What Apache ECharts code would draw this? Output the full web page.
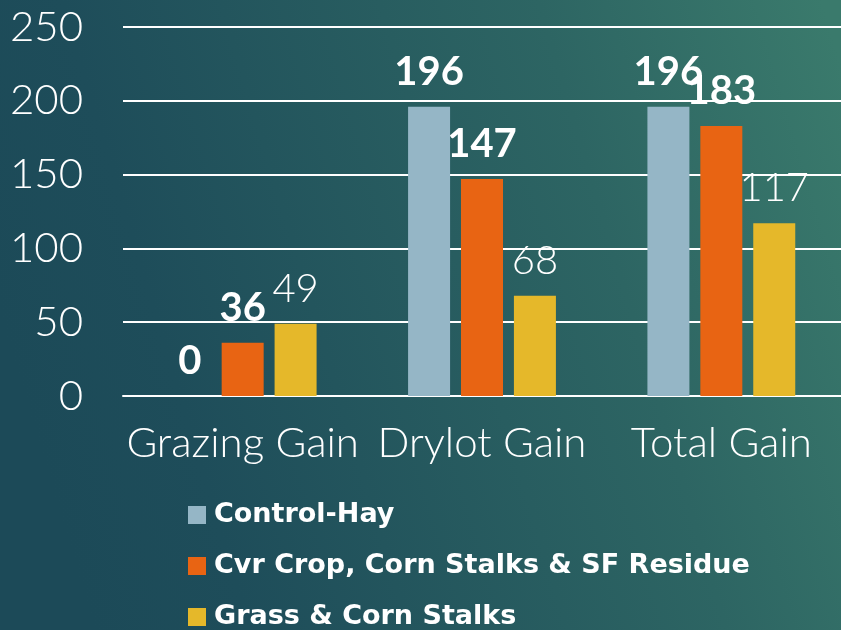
<!DOCTYPE html>
<html>
<head>
<meta charset="utf-8">
<script src="https://cdn.jsdelivr.net/npm/echarts@6/dist/echarts.min.js"></script>
<style>
html,body{margin:0;padding:0;background:#1d4d5a;}
#c{width:841px;height:630px;}
</style>
</head>
<body>
<div id="c"></div>
<script>
const categories = ['Grazing Gain', 'Drylot Gain', 'Total Gain'];
const seriesNames = ['Control-Hay', 'Cvr Crop, Corn Stalks & SF Residue', 'Grass & Corn Stalks'];
const controlHay = [0, 196, 196];
const cvrCrop = [36, 147, 183];
const grassCorn = [49, 68, 117];
const yTicks = [0, 50, 100, 150, 200, 250];

const colors = ['#95b6c6', '#e86413', '#e5b82a'];
const seriesData = [controlHay, cvrCrop, grassCorn];
const labelBold = ['bold', 'bold', 300];

const chart = echarts.init(document.getElementById('c'));
chart.setOption({
  backgroundColor: {
    type: 'linear', x: 0, y: 0.5, x2: 1, y2: 0.1,
    colorStops: [
      {offset: 0, color: '#1c4a58'},
      {offset: 0.17, color: '#1e4d5a'},
      {offset: 0.69, color: '#2d6563'},
      {offset: 1, color: '#3a7a6c'}
    ]
  },
  animation: false,
  grid: {left: 123, top: 27, width: 723, bottom: 234},
  legend: {
    orient: 'vertical',
    left: 183,
    top: 495,
    height: 300,
    itemWidth: 18,
    itemHeight: 18,
    itemGap: 21,
    icon: 'rect',
    data: seriesNames,
    textStyle: {color: '#ffffff', fontFamily: 'DejaVu Sans', fontWeight: 'bold', fontSize: 27, lineHeight: 30, padding: [0, 0, 0, 3]}
  },
  xAxis: {
    type: 'category',
    data: categories,
    axisLine: {lineStyle: {color: '#ffffff', width: 2}},
    axisTick: {show: false},
    axisLabel: {interval: 0, color: '#ffffff', fontFamily: 'Lato', fontWeight: 300, fontSize: 42, margin: 26}
  },
  yAxis: {
    type: 'value',
    min: 0, max: 250, interval: 50,
    axisLine: {show: false},
    axisTick: {show: false},
    splitLine: {lineStyle: {color: '#ffffff', width: 2}},
    axisLabel: {
      color: '#ffffff', fontFamily: 'Lato', fontWeight: 300, fontSize: 42, margin: 40,
      formatter: v => yTicks.includes(v) ? String(v) : ''
    }
  },
  series: seriesNames.map((name, i) => ({
    name: name,
    type: 'bar',
    data: seriesData[i],
    barWidth: 42,
    barGap: '26%',
    itemStyle: {color: colors[i]},
    label: {
      show: true, position: 'top', distance: 15,
      color: '#ffffff', fontFamily: 'Lato', fontWeight: labelBold[i], fontSize: 40
    }
  }))
});
</script>
</body>
</html>
